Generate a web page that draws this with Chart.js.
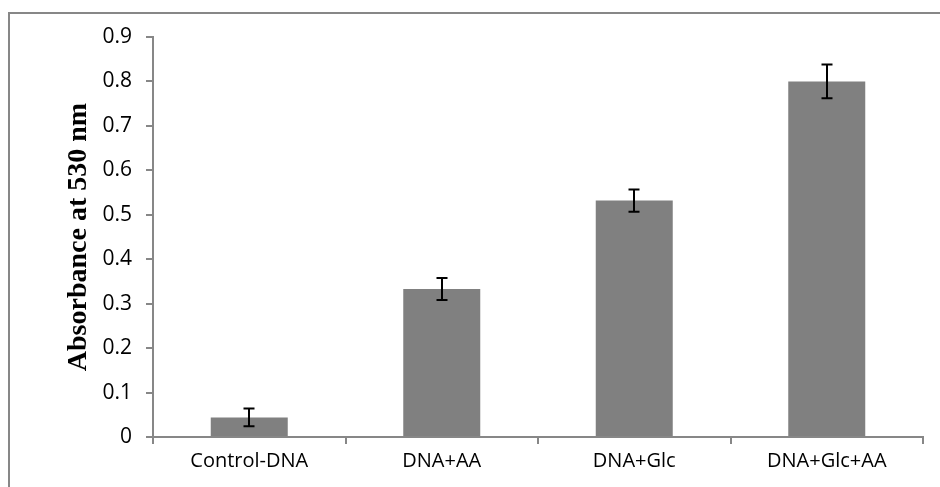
<!DOCTYPE html>
<html>
<head>
<meta charset="utf-8">
<script src="https://cdn.jsdelivr.net/npm/chart.js@4.4.0/dist/chart.umd.min.js"></script>
<style>
  html, body { margin: 0; padding: 0; background: #fff; }
  #wrap { width: 940px; height: 487px; }
</style>
</head>
<body>
<div id="wrap"><canvas id="chartAbs"></canvas></div>
<script>
// dados
const categorias = ["Control-DNA", "DNA+AA", "DNA+Glc", "DNA+Glc+AA"]
const absorbancia = [0.044, 0.333, 0.532, 0.800]
const erros = [0.020, 0.025, 0.025, 0.038]
const ticksY = [0, 0.1, 0.2, 0.3, 0.4, 0.5, 0.6, 0.7, 0.8, 0.9]

const cinzaEixo = "#878787"

// moldura externa do gráfico
const moldura = {
    id: "moldura",
    beforeDraw(chart) {
        const c = chart.ctx
        c.save()
        c.strokeStyle = cinzaEixo
        c.lineWidth = 2
        c.strokeRect(9, 13, 960, 520)
        c.restore()
    }
}

// barras de erro
const barrasErro = {
    id: "barrasErro",
    afterDatasetsDraw(chart) {
        const c = chart.ctx
        const y = chart.scales.y
        const meta = chart.getDatasetMeta(0)
        c.save()
        c.strokeStyle = "#000"
        c.lineWidth = 2
        meta.data.forEach((bar, i) => {
            const x = Math.round(bar.x)
            const yTop = y.getPixelForValue(absorbancia[i] + erros[i])
            const yBot = y.getPixelForValue(absorbancia[i] - erros[i])
            c.beginPath()
            c.moveTo(x, yTop)
            c.lineTo(x, yBot)
            c.moveTo(x - 5.5, yTop)
            c.lineTo(x + 5.5, yTop)
            c.moveTo(x - 5.5, yBot)
            c.lineTo(x + 5.5, yBot)
            c.stroke()
        })
        c.restore()
    }
}

const ctx = document.getElementById("chartAbs")

new Chart(ctx, {
    type: "bar",
    data: {
        labels: categorias,
        datasets: [{
            label: "Absorbance",
            data: absorbancia,
            backgroundColor: "#808080",
            borderWidth: 0,
            barPercentage: 0.4,
            categoryPercentage: 1.0
        }]
    },
    options: {
        responsive: true,
        maintainAspectRatio: false,
        animation: false,
        layout: {
            padding: { top: 37, right: 17, left: 0, bottom: 0 }
        },
        plugins: {
            legend: { display: false },
            tooltip: { enabled: false }
        },
        scales: {
            y: {
                min: 0,
                max: 0.9,
                afterFit: scale => { scale.width = 153 },
                afterBuildTicks: scale => {
                    scale.ticks = ticksY.map(v => ({ value: v }))
                },
                border: { color: cinzaEixo, width: 2 },
                grid: {
                    drawOnChartArea: false,
                    color: cinzaEixo,
                    tickColor: cinzaEixo,
                    tickLength: 7,
                    lineWidth: 2
                },
                ticks: {
                    color: "#000",
                    padding: 14,
                    font: { family: "Open Sans", size: 21 },
                    callback: v => String(Math.round(v * 10) / 10)
                },
                title: {
                    display: true,
                    text: "Absorbance at 530 nm",
                    color: "#000",
                    font: { family: "Liberation Serif", size: 28, weight: "bold" },
                    padding: { top: 62, bottom: 0 }
                }
            },
            x: {
                offset: true,
                afterFit: scale => { scale.height = 50 },
                border: { color: cinzaEixo, width: 2 },
                grid: {
                    offset: true,
                    drawOnChartArea: false,
                    color: cinzaEixo,
                    tickColor: cinzaEixo,
                    tickLength: 7,
                    lineWidth: 2
                },
                ticks: {
                    color: "#000",
                    padding: 5,
                    font: { family: "Open Sans", size: 20 }
                }
            }
        }
    },
    plugins: [moldura, barrasErro]
})
</script>
</body>
</html>
